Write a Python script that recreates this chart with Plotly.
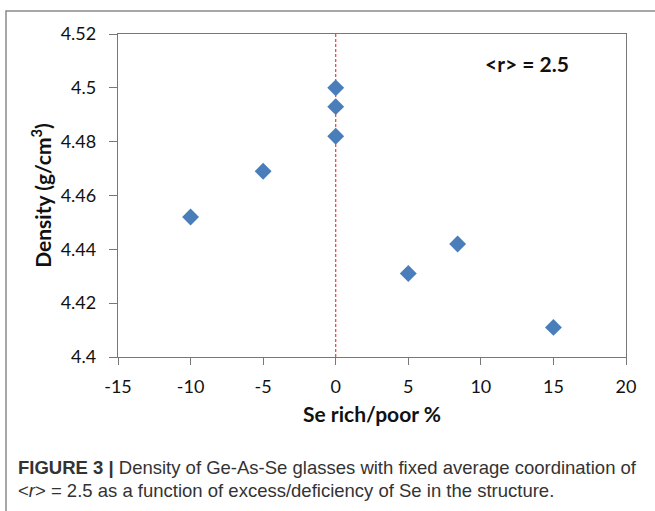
import plotly.graph_objects as go

# Se excess/deficiency (%) and measured density (g/cm^3)
se_excess = [-10, -5, 0, 0, 0, 5, 8.4, 15]
density = [4.452, 4.469, 4.500, 4.493, 4.482, 4.431, 4.442, 4.411]

x_ticks = [-15, -10, -5, 0, 5, 10, 15, 20]
x_tick_text = ["-15", "-10", "-5", "0", "5", "10", "15", "20"]
y_ticks = [4.40, 4.42, 4.44, 4.46, 4.48, 4.50, 4.52]
y_tick_text = ["4.4", "4.42", "4.44", "4.46", "4.48", "4.5", "4.52"]

W, H = 655, 511
L, R, T, B = 118, 29, 34, 154
pw, ph = W - L - R, H - T - B

def px_x(p):
    return (p - L) / pw

def px_y(p):
    return (H - B - p) / ph

FONT = "Lato, Open Sans, sans-serif"
axis_font = dict(family=FONT, size=18, color="#111111")
title_font = dict(family=FONT, size=21, color="#111111")

fig = go.Figure()

# stoichiometric reference line at 0 %
fig.add_trace(go.Scatter(
    x=[0, 0], y=[y_ticks[0], y_ticks[-1]], mode="lines",
    line=dict(color="#ee3b36", width=1.2, dash="3px,2px"),
    hoverinfo="skip", showlegend=False,
))

fig.add_trace(go.Scatter(
    x=se_excess, y=density, mode="markers",
    marker=dict(symbol="diamond", size=13, color="#4a7ebb"),
    showlegend=False,
))

fig.update_xaxes(
    range=[x_ticks[0], x_ticks[-1]], tickvals=x_ticks, ticktext=x_tick_text,
    ticks="outside", ticklen=7, tickcolor="#777777", tickwidth=1.3,
    showline=True, linecolor="#777777", linewidth=1.3, mirror=True,
    showgrid=False, zeroline=False, tickfont=axis_font, ticklabelstandoff=6,
    title=dict(text="<b>Se rich/poor %</b>", font=title_font, standoff=11),
)
fig.update_yaxes(
    range=[y_ticks[0], y_ticks[-1]], tickvals=y_ticks, ticktext=y_tick_text,
    ticks="outside", ticklen=8, tickcolor="#777777", tickwidth=1.3,
    showline=True, linecolor="#777777", linewidth=1.3, mirror=True,
    showgrid=False, zeroline=False, tickfont=axis_font, ticklabelstandoff=9,
    title=dict(text="<b>Density (g/cm<sup>3</sup>)</b>", font=title_font, standoff=3),
)

# outer figure frame
fig.add_shape(type="rect", xref="paper", yref="paper",
              x0=px_x(6), y0=px_y(530), x1=px_x(670), y1=px_y(11),
              line=dict(color="#8a8a8a", width=1.5), layer="below")

fig.add_annotation(
    x=px_x(483), y=px_y(63), xref="paper", yref="paper", showarrow=False,
    xanchor="left", yanchor="middle",
    text="<b>&lt;r&gt; = 2.5</b>",
    font=dict(family=FONT, size=21, color="#111111"),
)

caption_font = dict(family="Liberation Sans, Arial, sans-serif", size=18.5, color="#333333")
fig.add_annotation(
    x=px_x(16), y=px_y(467), xref="paper", yref="paper", showarrow=False,
    xanchor="left", yanchor="middle", font=caption_font,
    text="<b>FIGURE 3 |</b> Density of Ge-As-Se glasses with fixed average coordination of",
)
fig.add_annotation(
    x=px_x(16), y=px_y(491), xref="paper", yref="paper", showarrow=False,
    xanchor="left", yanchor="middle", font=caption_font,
    text="&lt;<i>r</i>&gt; = 2.5 as a function of excess/deficiency of Se in the structure.",
)

fig.update_layout(
    width=W, height=H,
    margin=dict(l=L, r=R, t=T, b=B),
    paper_bgcolor="white", plot_bgcolor="white",
)

fig.write_html("out.html")
